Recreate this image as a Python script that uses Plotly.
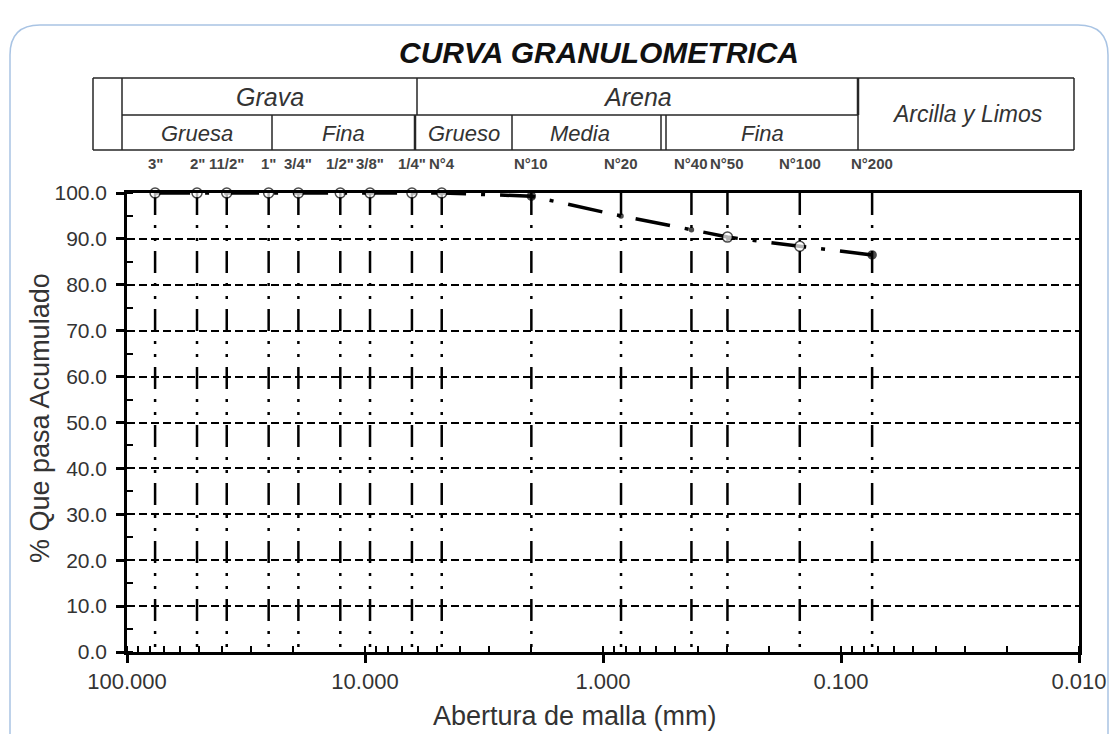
import math
import plotly.graph_objects as go

# ---------------- data ----------------
sieve_labels = ['3"', '2"', '11/2"', '1"', '3/4"', '1/2"', '3/8"', '1/4"',
                'N°4', 'N°10', 'N°20', 'N°40', 'N°50', 'N°100', 'N°200']
sieve_mm = [76.2, 50.8, 38.1, 25.4, 19.05, 12.7, 9.525, 6.35,
            4.76, 2.00, 0.84, 0.425, 0.30, 0.149, 0.074]
pct_passing = [100.0, 100.0, 100.0, 100.0, 100.0, 100.0, 100.0, 100.0,
               100.0, 99.3, 95.0, 92.0, 90.4, 88.4, 86.5]

x_tick_vals = [100, 10, 1, 0.1, 0.01]
x_tick_text = ["100.000", "10.000", "1.000", "0.100", "0.010"]
y_tick_vals = [0, 10, 20, 30, 40, 50, 60, 70, 80, 90, 100]
y_tick_text = ["%.1f" % v for v in y_tick_vals]

header_top = ["Grava", "Arena"]
header_bottom = ["Gruesa", "Fina", "Grueso", "Media", "Fina"]
header_right = "Arcilla y Limos"

# ---------------- layout helpers ----------------
W_FIG, H_FIG = 1111, 734
L, R, T, B = 127, 1079, 193, 652
PW, PH = R - L, B - T


def px(x):
    return (x - L) / PW


def py(y):
    return (B - y) / PH


FONT = "Liberation Sans, Arial, sans-serif"
TXT = "#333333"

fig = go.Figure()

# vertical sieve lines (dash-dot-dot)
for d in sieve_mm:
    fig.add_trace(go.Scatter(
        x=[d, d], y=[100, 0], mode="lines",
        line=dict(color="black", width=2.5, dash="22px,10px,3px,10px,3px,10px"),
        hoverinfo="skip", showlegend=False))

# styles per point (not data)
marker_fill = ["white"] * 9 + ["black", "black", "black", "white", "white", "black"]
marker_size = [10] * 9 + [8, 4, 4, 10, 10, 8]

fig.add_trace(go.Scatter(
    x=sieve_mm, y=pct_passing, mode="lines+markers",
    line=dict(color="black", width=3.5, dash="35px,15px,4px,15px"),
    marker=dict(symbol="circle", size=marker_size, color=marker_fill,
                line=dict(color="black", width=1.5)),
    cliponaxis=False, showlegend=False,
    hovertemplate="%{x} mm: %{y:.1f}%<extra></extra>"))

shapes = []

# rounded frame
frame = (f"M {px(10)},{py(734)} L {px(10)},{py(55)} Q {px(10)},{py(25)} {px(40)},{py(25)} "
         f"L {px(1078)},{py(25)} Q {px(1108)},{py(25)} {px(1108)},{py(55)} L {px(1108)},{py(734)}")
shapes.append(dict(type="path", xref="paper", yref="paper", path=frame,
                   line=dict(color="#a9c4e4", width=1.5), layer="below"))


def hline(x0, x1, y, w=1.5):
    shapes.append(dict(type="line", xref="paper", yref="paper",
                       x0=px(x0), x1=px(x1), y0=py(y), y1=py(y),
                       line=dict(color="#262626", width=w)))


def vline(x, y0, y1, w=1.5):
    shapes.append(dict(type="line", xref="paper", yref="paper",
                       x0=px(x), x1=px(x), y0=py(y0), y1=py(y1),
                       line=dict(color="#262626", width=w)))


# header table
hline(93, 1074, 78)
hline(93, 1074, 150)
hline(122, 858, 115)
vline(93, 78, 150)
vline(122, 78, 150)
vline(417, 78, 115)
vline(858, 78, 115, 2.5)
vline(858, 115, 150)
vline(1074, 78, 150)
vline(272, 115, 150)
vline(415, 115, 150, 2.5)
vline(512, 115, 150)
vline(661, 115, 150)
vline(666, 115, 150)

annotations = []

annotations.append(dict(text="<b><i>CURVA GRANULOMETRICA</i></b>", x=px(599), y=py(52),
                        xref="paper", yref="paper", showarrow=False,
                        font=dict(family=FONT, size=30, color="#111111"),
                        xanchor="center", yanchor="middle"))

for txt, cx in zip(header_top, [270, 637]):
    annotations.append(dict(text=f"<i>{txt}</i>", x=px(cx), y=py(97), xref="paper", yref="paper",
                            showarrow=False, font=dict(family=FONT, size=25, color=TXT),
                            xanchor="center", yanchor="middle"))
for txt, cx in zip(header_bottom, [197, 343, 464, 580, 762]):
    annotations.append(dict(text=f"<i>{txt}</i>", x=px(cx), y=py(133), xref="paper", yref="paper",
                            showarrow=False, font=dict(family=FONT, size=22, color=TXT),
                            xanchor="center", yanchor="middle"))
annotations.append(dict(text=f"<i>{header_right}</i>", x=px(967), y=py(114), xref="paper", yref="paper",
                        showarrow=False, font=dict(family=FONT, size=23, color=TXT),
                        xanchor="center", yanchor="middle"))

for lab, d in zip(sieve_labels, sieve_mm):
    annotations.append(dict(text=f"<b>{lab}</b>", x=math.log10(d), y=py(163), xref="x", yref="paper",
                            showarrow=False, font=dict(family=FONT, size=15, color="#444444"),
                            xanchor="center", yanchor="middle"))

annotations.append(dict(text="% Que pasa Acumulado", x=px(40), y=py(418), xref="paper", yref="paper",
                        showarrow=False, textangle=-90, font=dict(family=FONT, size=27, color=TXT),
                        xanchor="center", yanchor="middle"))
annotations.append(dict(text="Abertura de malla (mm)", x=px(575), y=py(716), xref="paper", yref="paper",
                        showarrow=False, font=dict(family=FONT, size=27, color=TXT),
                        xanchor="center", yanchor="middle"))

fig.update_layout(
    width=W_FIG, height=H_FIG, autosize=False,
    margin=dict(l=L, r=W_FIG - R, t=T, b=H_FIG - B, pad=0, autoexpand=False),
    paper_bgcolor="white", plot_bgcolor="white",
    shapes=shapes, annotations=annotations, showlegend=False,
    font=dict(family=FONT, color=TXT),
)

fig.update_xaxes(
    type="log", range=[2, -2], automargin=False,
    tickvals=x_tick_vals, ticktext=x_tick_text,
    tickfont=dict(family=FONT, size=22, color=TXT),
    ticks="outside", ticklen=8, tickwidth=2.5, tickcolor="black",
    showline=True, linecolor="black", linewidth=2.5, mirror=True,
    showgrid=False, zeroline=False,
    minor=dict(ticks="inside", ticklen=6, tickwidth=2, tickcolor="black", dtick="D1", showgrid=False),
)
fig.update_yaxes(
    range=[0, 100], automargin=False,
    tickvals=y_tick_vals, ticktext=y_tick_text,
    tickfont=dict(family=FONT, size=21, color=TXT),
    ticks="outside", ticklen=8, tickwidth=2.5, tickcolor="black",
    ticklabelstandoff=5,
    showline=True, linecolor="black", linewidth=2.5, mirror=True,
    showgrid=True, gridcolor="black", gridwidth=2, griddash="8px,4px",
    zeroline=False,
    minor=dict(ticks="inside", ticklen=6, tickwidth=2, tickcolor="black", dtick=5, showgrid=False),
)

fig.write_html("out.html",
               config={"responsive": False, "displayModeBar": False},
               post_script="document.body.style.margin='0px';document.body.style.overflow='hidden';")
